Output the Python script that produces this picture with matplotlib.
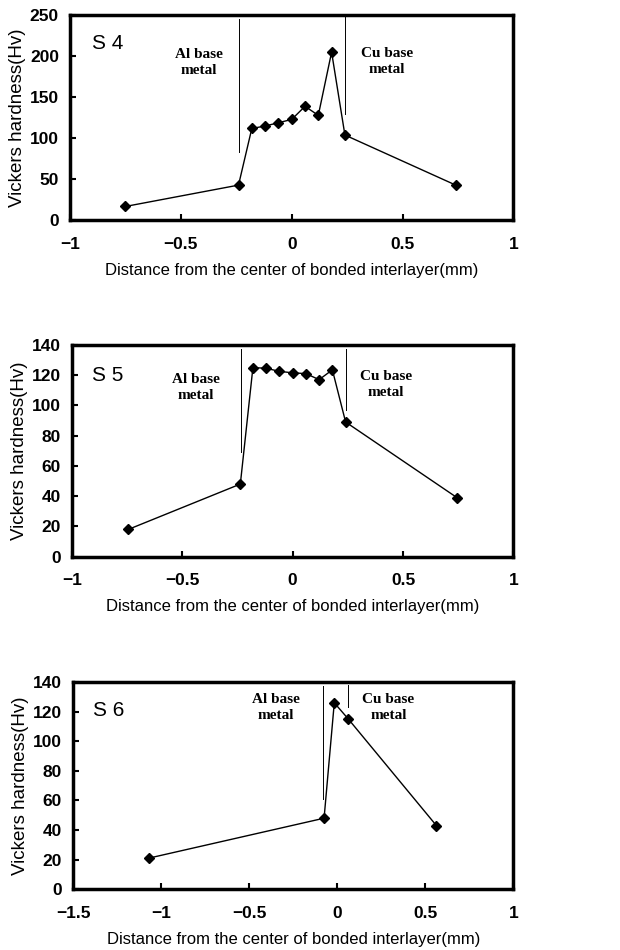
import matplotlib
matplotlib.use("Agg")
from matplotlib import pyplot as plt

# hardness profiles across the bonded interlayer (x in mm, Hv)
s4_x = [-0.75, -0.24, -0.18, -0.12, -0.06, 0.0, 0.06, 0.12, 0.18, 0.24, 0.74]
s4_hv = [17, 43, 112, 115, 119, 123, 139, 128, 205, 104, 43]

s5_x = [-0.745, -0.237, -0.18, -0.12, -0.06, 0.0, 0.06, 0.12, 0.18, 0.24, 0.745]
s5_hv = [18, 48, 125, 124.5, 122.5, 121.5, 121, 117, 123.5, 89, 39]

s6_x = [-1.07, -0.075, -0.017, 0.063, 0.563]
s6_hv = [21, 48, 126, 115, 43]

# interface lines: (x, y_bottom, y_top) for Al side and Cu side
s4_bounds = [(-0.236, 83, 245), (0.24, 130, 248)]
s5_bounds = [(-0.236, 69, 137), (0.242, 97, 137)]
s6_bounds = [(-0.08, 61, 137.5), (0.063, 123, 138)]

panels = [
    dict(name="S 4", x=s4_x, y=s4_hv, bounds=s4_bounds,
         xlim=(-1, 1), xticks=[-1, -0.5, 0, 0.5, 1],
         ylim=(0, 250), yticks=[0, 50, 100, 150, 200, 250],
         name_pos=(-0.9, 215), al_pos=(-0.42, 192), cu_pos=(0.43, 193),
         rect=[0.113, 0.768, 0.715, 0.216]),
    dict(name="S 5", x=s5_x, y=s5_hv, bounds=s5_bounds,
         xlim=(-1, 1), xticks=[-1, -0.5, 0, 0.5, 1],
         ylim=(0, 140), yticks=[0, 20, 40, 60, 80, 100, 120, 140],
         name_pos=(-0.91, 120), al_pos=(-0.44, 112), cu_pos=(0.424, 114),
         rect=[0.116, 0.414, 0.712, 0.223]),
    dict(name="S 6", x=s6_x, y=s6_hv, bounds=s6_bounds,
         xlim=(-1.5, 1), xticks=[-1.5, -1, -0.5, 0, 0.5, 1],
         ylim=(0, 140), yticks=[0, 20, 40, 60, 80, 100, 120, 140],
         name_pos=(-1.39, 120.5), al_pos=(-0.35, 123), cu_pos=(0.29, 123),
         rect=[0.118, 0.064, 0.710, 0.218]),
]


def fmt(v):
    s = f"{v:g}"
    return s.replace("-", "\u2212")


fig = plt.figure(figsize=(6.2, 9.5), dpi=100)
plt.rcParams['font.family'] = ['Liberation Sans', 'DejaVu Sans']

for p in panels:
    ax = fig.add_axes(p["rect"])
    ax.plot(p["x"], p["y"], color="black", linewidth=1.0,
            marker="D", markersize=5, markerfacecolor="black")
    for bx, lo, hi in p["bounds"]:
        ax.plot([bx, bx], [lo, hi], color="black", linewidth=0.7)

    ax.set_xlim(*p["xlim"])
    ax.set_ylim(*p["ylim"])
    ax.set_xticks(p["xticks"])
    ax.set_yticks(p["yticks"])
    ax.set_xticklabels([fmt(t) for t in p["xticks"]], fontsize=12.5, fontweight="bold")
    ax.set_yticklabels([fmt(t) for t in p["yticks"]], fontsize=12.5, fontweight="bold")
    ax.tick_params(axis="x", direction="in", length=4, width=1.5, pad=12)
    ax.tick_params(axis="y", direction="in", length=4, width=1.5, pad=8)
    for sp in ax.spines.values():
        sp.set_linewidth(2.5)

    ax.set_xlabel("Distance from the center of bonded interlayer(mm)", fontsize=12, labelpad=8)
    ax.set_ylabel("Vickers hardness(Hv)", fontsize=13.5, labelpad=3)

    ax.text(p["name_pos"][0], p["name_pos"][1], p["name"], fontsize=15,
            ha="left", va="center")
    ax.text(p["al_pos"][0], p["al_pos"][1], "Al base\nmetal", fontsize=11,
            family="Liberation Serif", fontweight="bold", ha="center", va="center",
            linespacing=1.3)
    ax.text(p["cu_pos"][0], p["cu_pos"][1], "Cu base\nmetal", fontsize=11,
            family="Liberation Serif", fontweight="bold", ha="center", va="center",
            linespacing=1.3)

plt.savefig("out.png", dpi=100)
